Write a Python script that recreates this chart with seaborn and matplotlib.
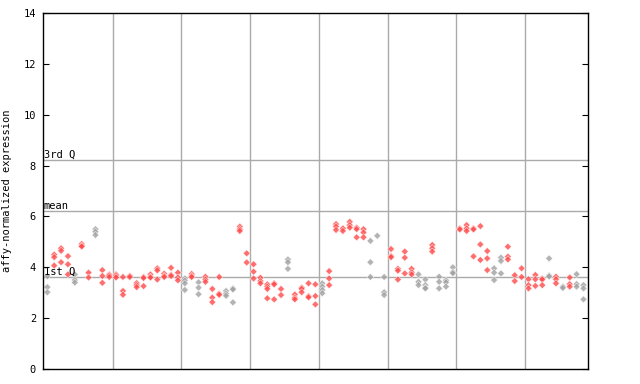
import pandas as pd
import numpy as np
import seaborn as sns
import matplotlib.pyplot as plt

# expression values per sample (several replicates each), 8 groups of samples
group1 = [[3.65, 3.22, 3.02], [4.5, 4.4, 4.07], [4.75, 4.65, 4.2], [4.44, 4.12, 3.72],
          [3.72, 3.5, 3.4], [4.92, 4.85, 4.82], [3.79, 3.6], [5.5, 5.4, 5.27],
          [3.89, 3.66, 3.39], [3.72, 3.68, 3.62]]
group2 = [[3.72, 3.66, 3.6], [3.62, 3.07, 2.92], [3.66, 3.62], [3.38, 3.3, 3.22],
          [3.62, 3.58, 3.26], [3.72, 3.62, 3.6], [3.96, 3.88, 3.52], [3.75, 3.66, 3.62],
          [3.98, 3.7, 3.66], [3.79, 3.6, 3.49]]
group3 = [[3.56, 3.48, 3.37, 3.11], [3.74, 3.66, 3.62], [3.41, 3.2, 2.94], [3.63, 3.52, 3.43],
          [3.15, 2.81, 2.63], [3.62, 2.96, 2.92], [3.07, 2.96, 2.88], [3.17, 3.13, 2.62],
          [5.6, 5.5, 5.43], [4.55, 4.19]]
group4 = [[4.12, 3.83, 3.56], [3.59, 3.46, 3.37], [3.33, 3.24, 3.15, 2.78], [3.37, 3.33, 2.74],
          [3.15, 2.91], [4.31, 4.2, 3.94], [2.93, 2.8, 2.74], [3.2, 3.15, 3.02],
          [3.37, 2.86, 2.82], [3.33, 2.87, 2.54]]
group5 = [[3.37, 3.24, 3.11, 2.98], [3.85, 3.56, 3.3], [5.7, 5.6, 5.47], [5.53, 5.43],
          [5.79, 5.66, 5.56], [5.56, 5.5, 5.18], [5.5, 5.37, 5.18], [5.04, 4.2, 3.62],
          [5.24], [3.62, 3.02, 2.91]]
group6 = [[4.72, 4.44, 4.4], [3.94, 3.87, 3.52], [4.62, 4.38, 3.76], [3.94, 3.8, 3.72],
          [3.72, 3.43, 3.3], [3.52, 3.3, 3.2, 3.17], [4.88, 4.75, 4.62], [3.63, 3.43, 3.17],
          [3.49, 3.41, 3.24], [4.0, 3.81, 3.77]]
group7 = [[5.53, 5.49], [5.66, 5.53, 5.43], [5.53, 5.49, 4.43], [5.62, 4.9, 4.29],
          [4.64, 4.35, 3.89], [3.96, 3.79, 3.5], [4.38, 4.25, 3.76], [4.81, 4.42, 4.31],
          [3.69, 3.46], [3.96, 3.62]]
group8 = [[3.53, 3.3, 3.17], [3.7, 3.53, 3.27], [3.56, 3.52, 3.3], [4.35, 3.68, 3.64],
          [3.63, 3.53, 3.37], [3.24, 3.19], [3.6, 3.34, 3.24], [3.73, 3.34, 3.24],
          [3.3, 3.17, 2.74]]

# samples drawn in grey instead of red
grey_samples = [0, 4, 7, 20, 22, 26, 27, 35, 40, 47, 48, 49, 54, 55, 57, 58, 59,
                65, 66, 73, 75, 77, 78]

# summary lines
q1_value = 3.62
mean_value = 6.21
q3_value = 8.21

groups = [group1, group2, group3, group4, group5, group6, group7, group8]
rows = []
k = 0
for g in groups:
    for sample in g:
        for v in sample:
            rows.append({'sample': k, 'value': v,
                         'tone': 'grey' if k in grey_samples else 'red'})
        k += 1
df = pd.DataFrame(rows)
n_samples = k

plt.rcParams['font.family'] = ['DejaVu Sans Mono']
fig = plt.figure(figsize=(6.4, 3.84), dpi=100)
ax = fig.add_axes([0.0672, 0.039, 0.852, 0.927])

sns.scatterplot(data=df, x='sample', y='value', hue='tone',
                palette={'red': '#ff4a4a', 'grey': '#a0a0a0'},
                marker='D', s=13, linewidth=0.4, alpha=0.8, legend=False, ax=ax)

# group separators
bounds = np.cumsum([len(g) for g in groups])[:-1] - 0.5
for b in bounds:
    ax.axvline(b, color='#aaaaaa', linewidth=1, zorder=0)

for val, lab in [(q1_value, '1st Q'), (mean_value, 'mean'), (q3_value, '3rd Q')]:
    ax.axhline(val, color='#aaaaaa', linewidth=1, zorder=0)
    ax.text(-0.55, val + 0.02, lab, fontsize=7.5, va='bottom', ha='left')

ax.set_xlim(-0.63, n_samples - 0.3)
ax.set_ylim(0, 14)
ax.set_yticks(range(0, 15, 2))
ax.set_xticks([])
ax.tick_params(axis='y', direction='in', length=4, labelsize=7.5, right=True, pad=5)
ax.set_xlabel('')
ax.set_ylabel('affy-normalized expression', fontsize=7.5, labelpad=8)
for sp in ax.spines.values():
    sp.set_color('black')
    sp.set_linewidth(1)

plt.savefig('out.png', dpi=100)
